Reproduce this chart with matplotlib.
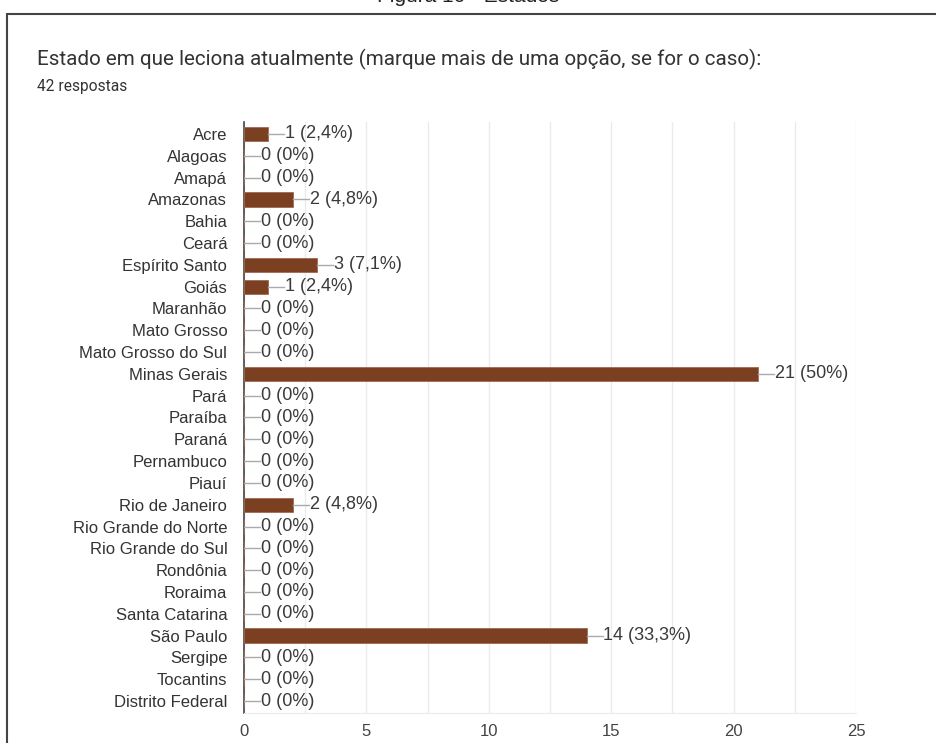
import numpy as np
import matplotlib.pyplot as plt
from matplotlib.patches import Rectangle

plt.rcParams['font.family'] = ['Liberation Sans', 'DejaVu Sans']

# Dados
estados = ['Acre', 'Alagoas', 'Amapá', 'Amazonas', 'Bahia', 'Ceará', 'Espírito Santo',
           'Goiás', 'Maranhão', 'Mato Grosso', 'Mato Grosso do Sul', 'Minas Gerais',
           'Pará', 'Paraíba', 'Paraná', 'Pernambuco', 'Piauí', 'Rio de Janeiro',
           'Rio Grande do Norte', 'Rio Grande do Sul', 'Rondônia', 'Roraima',
           'Santa Catarina', 'São Paulo', 'Sergipe', 'Tocantins', 'Distrito Federal']
respostas = [1, 0, 0, 2, 0, 0, 3, 1, 0, 0, 0, 21, 0, 0, 0, 0, 0, 2, 0, 0, 0, 0, 0, 14, 0, 0, 0]
rotulos = ['1 (2,4%)', '0 (0%)', '0 (0%)', '2 (4,8%)', '0 (0%)', '0 (0%)', '3 (7,1%)',
           '1 (2,4%)', '0 (0%)', '0 (0%)', '0 (0%)', '21 (50%)', '0 (0%)', '0 (0%)',
           '0 (0%)', '0 (0%)', '0 (0%)', '2 (4,8%)', '0 (0%)', '0 (0%)', '0 (0%)',
           '0 (0%)', '0 (0%)', '14 (33,3%)', '0 (0%)', '0 (0%)', '0 (0%)']
ticks_x = [0, 5, 10, 15, 20, 25]

fig = plt.figure(figsize=(9.36, 7.43), dpi=100)

# Moldura e titulo da figura
fig.patches.append(Rectangle((7 / 936, -0.1), 1.0, 1 - 14 / 743 + 0.1, transform=fig.transFigure,
                             fill=False, edgecolor='#444444', linewidth=1.5))
fig.text(0.5, 1 + 3 / 743, 'Figura 10 - Estados', ha='center', va='center', fontsize=15, color='#222222')
fig.text(37 / 936, 1 - 59 / 743, 'Estado em que leciona atualmente (marque mais de uma opção, se for o caso):',
         ha='left', va='center', fontsize=14.9, color='#333333', family=['Roboto', 'DejaVu Sans'])
fig.text(37 / 936, 1 - 87 / 743, '42 respostas', ha='left', va='center', fontsize=11.2,
         color='#333333', family=['Roboto', 'DejaVu Sans'])

ax = fig.add_axes([244 / 936, 1 - 713 / 743, (856 - 244) / 936, (713 - 122) / 743])
y = np.arange(len(estados))
ax.barh(y, respostas, height=0.65, color='#7b3f22', edgecolor='#a06a50', linewidth=0.6, zorder=3)

for yi, v, r in zip(y, respostas, rotulos):
    ax.plot([v, v + 0.65], [yi, yi], color='#aaaaaa', linewidth=1, zorder=3)
    ax.text(v + 0.68, yi, r, va='center', ha='left', fontsize=13, color='#3a3a3a')

ax.set_yticks(y)
ax.set_yticklabels(estados, fontsize=12, color='#333333')
ax.set_ylim(len(estados) - 0.45, -0.55)
ax.set_xlim(0, 25)
ax.set_xticks(ticks_x)
ax.set_xticklabels([str(t) for t in ticks_x], fontsize=12, color='#444444')
ax.set_xticks(np.arange(0, 25.1, 2.5), minor=True)
ax.grid(axis='x', which='both', color='#ebebeb', linewidth=1, zorder=0)
ax.tick_params(axis='both', which='both', length=0)
ax.tick_params(axis='x', pad=8)
ax.tick_params(axis='y', pad=12)
for s in ['top', 'right']:
    ax.spines[s].set_visible(False)
ax.spines['bottom'].set_color('#ebebeb')
ax.spines['left'].set_color('#444444')
ax.spines['left'].set_linewidth(1.2)

plt.savefig('out.png', dpi=100)
